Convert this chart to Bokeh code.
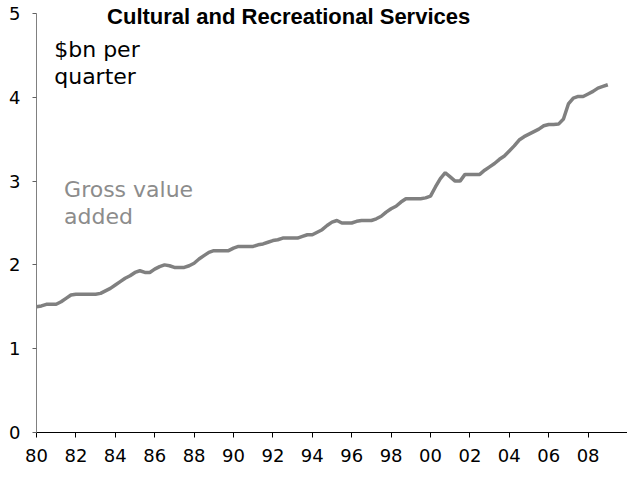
import numpy as np
from bokeh.plotting import figure
from bokeh.models import ColumnDataSource, Label, FixedTicker, Range1d
from bokeh.embed import file_html
from bokeh.resources import INLINE

start_year = 1980.0
gva = [
    1.50, 1.51, 1.53, 1.53,
    1.53, 1.56, 1.60, 1.64,
    1.65, 1.65, 1.65, 1.65,
    1.65, 1.66, 1.69, 1.72,
    1.76, 1.80, 1.84, 1.87,
    1.91, 1.93, 1.91, 1.91,
    1.95, 1.98, 2.00, 1.99,
    1.97, 1.97, 1.97, 1.99,
    2.02, 2.07, 2.11, 2.15,
    2.17, 2.17, 2.17, 2.17,
    2.20, 2.22, 2.22, 2.22,
    2.22, 2.24, 2.25, 2.27,
    2.29, 2.30, 2.32, 2.32,
    2.32, 2.32, 2.34, 2.36,
    2.36, 2.39, 2.42, 2.47,
    2.51, 2.53, 2.50, 2.50,
    2.50, 2.52, 2.53, 2.53,
    2.53, 2.55, 2.58, 2.63,
    2.67, 2.70, 2.75, 2.79,
    2.79, 2.79, 2.79, 2.80,
    2.82, 2.93, 3.03, 3.10,
    3.05, 3.00, 3.00, 3.08,
    3.08, 3.08, 3.08, 3.13,
    3.17, 3.21, 3.26, 3.30,
    3.36, 3.42, 3.49, 3.53,
    3.56, 3.59, 3.62, 3.66,
    3.675, 3.675, 3.68, 3.74,
    3.92, 3.99, 4.01, 4.01,
    4.04, 4.07, 4.11, 4.13,
    4.15,
]
x_ticks = list(range(1980, 2010, 2))
x_tick_labels = {t: f"{t % 100:02d}" for t in x_ticks}
y_ticks = [0, 1, 2, 3, 4, 5]

years = [start_year + i * 0.25 for i in range(len(gva))]
src = ColumnDataSource(dict(x=years, y=gva))

FONT = "DejaVu Sans"

p = figure(width=627, height=477, output_backend="svg", toolbar_location=None,
           x_range=Range1d(1980, 2010), y_range=Range1d(0, 5.155),
           min_border_left=36, min_border_right=0, min_border_top=0, min_border_bottom=45)
p.outline_line_color = None
p.grid.visible = False
p.background_fill_color = "white"

p.line("x", "y", source=src, line_color="#808080", line_width=3.5)

for ax in (p.xaxis[0], p.yaxis[0]):
    ax.axis_line_color = "black"
    ax.axis_line_width = 1
    ax.major_tick_line_color = "black"
    ax.minor_tick_line_color = None
    ax.major_tick_in = 0
    ax.major_tick_out = 5
    ax.major_label_text_font = FONT
    ax.major_label_text_font_size = "18px"
    ax.major_label_text_color = "black"

p.xaxis.ticker = FixedTicker(ticks=x_ticks)
p.xaxis.major_label_overrides = x_tick_labels
p.xaxis.major_label_standoff = 11
p.yaxis.ticker = FixedTicker(ticks=y_ticks)
p.yaxis.bounds = (0, 5)
p.yaxis.major_label_standoff = 12
p.yaxis.axis_line_color = "#808080"
p.yaxis.major_tick_line_color = "#606060"
p.yaxis.major_tick_out = 4

p.add_layout(Label(x=1992.8, y=5.0, text="Cultural and Recreational Services",
                   text_font="Liberation Sans", text_font_style="bold",
                   text_font_size="22px", text_align="center", text_baseline="top",
                   text_color="black", y_offset=9))
p.add_layout(Label(x=1980.9, y=4.72, text="$bn per\nquarter", text_font=FONT,
                   text_font_size="22px", text_color="black", text_baseline="top",
                   text_line_height=1.1))
p.add_layout(Label(x=1981.4, y=3.05, text="Gross value\nadded", text_font=FONT,
                   text_font_size="22px", text_color="#8c8c8c", text_baseline="top",
                   text_line_height=1.1))

open("out.html", "w").write(file_html(p, INLINE))
